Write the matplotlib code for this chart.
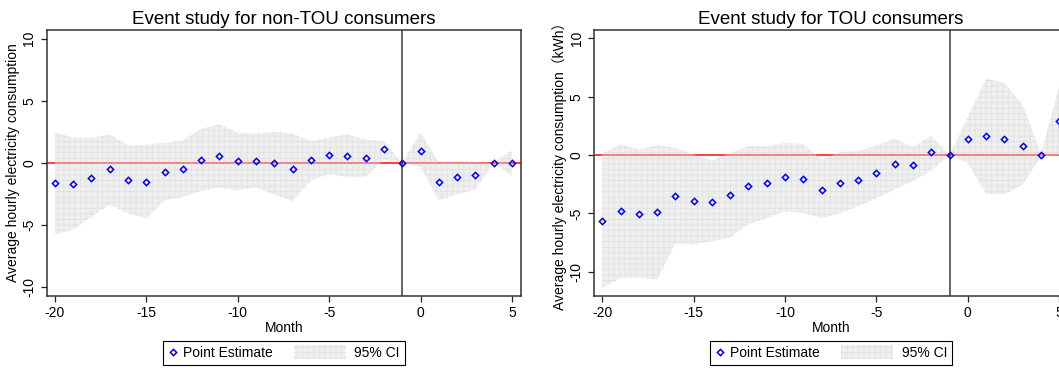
import matplotlib
matplotlib.use("Agg")
import matplotlib.pyplot as plt
import matplotlib.patches as mpatches
from matplotlib.lines import Line2D
from matplotlib.legend_handler import HandlerPatch

plt.rcParams['font.family'] = ['Liberation Sans', 'Noto Sans CJK SC', 'DejaVu Sans']
plt.rcParams['hatch.linewidth'] = 0.5
plt.rcParams['axes.unicode_minus'] = False

months = list(range(-20, 6))

# non-TOU consumers
nontou_est = [-1.61, -1.66, -1.18, -0.51, -1.36, -1.50, -0.69, -0.45, 0.27, 0.59,
              0.13, 0.19, 0.00, -0.45, 0.21, 0.62, 0.56, 0.38, 1.10, 0.00,
              1.00, -1.55, -1.15, -0.99, 0.00, 0.00]
nontou_hi = [2.49, 2.04, 2.04, 2.30, 1.42, 1.45, 1.64, 1.80, 2.76, 3.11,
             2.44, 2.36, 2.52, 2.36, 1.77, 2.04, 2.30, 1.88, 1.77, 0.00,
             2.44, 0.03, 0.19, 0.08, 0.00, 1.02]
nontou_lo = [-5.73, -5.35, -4.34, -3.34, -4.06, -4.47, -3.00, -2.73, -2.25, -1.98,
             -2.19, -1.98, -2.54, -3.08, -1.39, -0.91, -1.12, -1.12, 0.27, 0.00,
             -0.32, -3.00, -2.51, -2.14, 0.00, -1.07]

# TOU consumers
tou_est = [-5.68, -4.82, -5.02, -4.91, -3.51, -3.94, -3.99, -3.43, -2.62, -2.37,
           -1.85, -2.06, -2.97, -2.40, -2.11, -1.51, -0.80, -0.82, 0.23, 0.00,
           1.37, 1.63, 1.40, 0.74, 0.00, 2.95]
tou_hi = [0.12, 0.92, 0.46, 0.86, 0.60, 0.03, -0.45, 0.17, 0.77, 0.75,
          1.06, 0.94, -0.40, 0.26, 0.34, 0.83, 1.40, 0.66, 1.66, 0.00,
          3.26, 6.55, 6.17, 4.30, 0.10, 5.90]
tou_lo = [-11.39, -10.54, -10.51, -10.68, -7.59, -7.65, -7.40, -7.05, -5.94, -5.42,
          -4.82, -4.97, -5.40, -5.00, -4.40, -3.70, -2.95, -2.23, -1.32, 0.00,
          -0.70, -3.31, -3.37, -2.55, -0.10, -0.05]

titles = ["Event study for non-TOU consumers", "Event study for TOU consumers"]
ylabels = ["Average hourly electricity consumption",
           "Average hourly electricity consumption（kWh）"]
xticks = [-20, -15, -10, -5, 0, 5]
yticks = [-10, -5, 0, 5, 10]

band_kw = dict(facecolor='#d9d9d9', edgecolor='#cacaca', alpha=0.42,
               linewidth=0, hatch='+++')


def wide_patch(legend, orig_handle, xdescent, ydescent, width, height, fontsize):
    w = 3.75 * fontsize
    h = 0.95 * fontsize
    return mpatches.Rectangle((-xdescent + width - 0.3 * fontsize - w,
                               -ydescent + (height - h) / 2), w, h)


def draw_panel(ax, est, lo, hi, title, ylabel, ylim):
    ax.axhline(0, color='#ff2020', lw=1.2, zorder=1)
    ax.fill_between(months, lo, hi, zorder=2, **band_kw)
    ax.axvline(-1, color='#3a3a3a', lw=1.1, zorder=3)
    ax.plot(months, est, ls='none', marker='D', ms=3.2, mfc='none',
            mec='#0000ff', mew=1.1, zorder=4)
    ax.set_xlim(-20.45, 5.48)
    ax.set_ylim(*ylim)
    ax.set_xticks(xticks)
    ax.set_yticks(yticks)
    ax.tick_params(direction='out', length=4.5, width=0.9, labelsize=10,
                   pad=3, colors='#222222', labelcolor='black')
    ax.tick_params(axis='y', labelrotation=90)
    for lab in ax.get_yticklabels():
        lab.set_va('center')
    for sp in ax.spines.values():
        sp.set_linewidth(1.1)
        sp.set_color('#333333')
    ax.set_title(title, fontsize=13.5, pad=4)
    ax.set_xlabel("Month", fontsize=10, labelpad=0.5)
    ax.set_ylabel(ylabel, fontsize=10, labelpad=2)

    handles = [Line2D([], [], ls='none', marker='D', ms=3.2, mfc='none',
                      mec='#0000ff', mew=1.1),
               mpatches.Patch(**band_kw)]
    leg = ax.legend(handles, ["Point Estimate", "95% CI"], loc='upper center',
                    bbox_to_anchor=(0.5, -0.169), ncol=2, fontsize=10,
                    frameon=True, fancybox=False, framealpha=1,
                    edgecolor='black', handlelength=0.8, handletextpad=0.3,
                    columnspacing=4.8, borderpad=0.35, borderaxespad=0,
                    handler_map={mpatches.Patch: HandlerPatch(patch_func=wide_patch)})
    leg.get_frame().set_linewidth(0.8)


fig = plt.figure(figsize=(10.59, 3.68), dpi=100)
ax1 = fig.add_axes([46.7 / 1059, 72 / 368, 474 / 1059, 266 / 368])
ax2 = fig.add_axes([594 / 1059, 72 / 368, 474 / 1059, 266 / 368])

draw_panel(ax1, nontou_est, nontou_lo, nontou_hi, titles[0], ylabels[0], (-10.7, 10.7))
draw_panel(ax2, tou_est, tou_lo, tou_hi, titles[1], ylabels[1], (-12.08, 10.71))

fig.savefig("out.png", dpi=100)
